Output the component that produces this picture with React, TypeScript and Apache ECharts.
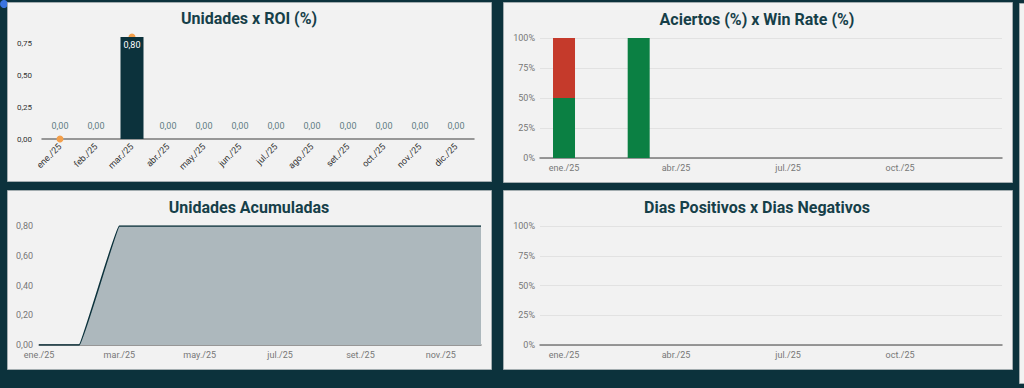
import React, { useEffect, useRef } from "react";
import * as echarts from "echarts";

const months = ["ene./25", "feb./25", "mar./25", "abr./25", "may./25", "jun./25", "jul./25", "ago./25", "set./25", "oct./25", "nov./25", "dic./25"];
const unidades = [0, 0, 0.8, 0, 0, 0, 0, 0, 0, 0, 0, 0];
const roi: (number | null)[] = [0, null, 0.8, null, null, null, null, null, null, null, null, null];
const acumuladas = [0, 0, 0.8, 0.8, 0.8, 0.8, 0.8, 0.8, 0.8, 0.8, 0.8, 0.8];
const winMonthIdx = [0, 2];
const aciertos = [50, 100];
const fallos = [50, 0];
const diasMonthIdx: number[] = [];
const diasPositivos: number[] = [];
const diasNegativos: number[] = [];
const quarterTicks = [0, 3, 6, 9];

const titles = ["Unidades x ROI (%)", "Aciertos (%) x Win Rate (%)", "Unidades Acumuladas", "Dias Positivos x Dias Negativos"];

const FONT = "Roboto";
const TITLE_COLOR = "#163f49";
const DARK = "#0c323c";
const fmt2 = (v: number) => v.toFixed(2).replace(".", ",");

export default function App() {
  const ref = useRef<HTMLDivElement>(null);
  useEffect(() => {
    if (!ref.current) return;
    const chart = echarts.init(ref.current, null, { renderer: "svg" });

    const panel = (x: number, y: number, w: number, h: number) => ({
      type: "rect",
      z: -10,
      shape: { x, y, width: w, height: h },
      style: { fill: "#f2f2f2", stroke: "#a3adb0", lineWidth: 1 },
    });

    const titleOpt = (text: string, cx: number, top: number) => ({
      text,
      left: cx,
      top,
      textAlign: "center",
      padding: 0,
      textStyle: { fontFamily: FONT, fontSize: 16, fontWeight: "bold", color: TITLE_COLOR },
    });

    const unidadesData = unidades.map((v) =>
      v > 0
        ? { value: v, label: { position: "insideTop", distance: 3, color: "#ffffff" } }
        : { value: v }
    );

    const timeXAxis = (gridIndex: number) => ({
      type: "value",
      gridIndex,
      min: -0.643,
      max: 11.73,
      splitLine: { show: false },
      axisTick: { show: false },
      axisLine: { show: true, onZero: false, lineStyle: { color: "#7a7a7a", width: 1.5 } },
      axisLabel: {
        customValues: quarterTicks,
        formatter: (v: number) => months[Math.round(v)] ?? "",
        color: "#777",
        fontFamily: FONT,
        fontSize: 9,
        margin: 5,
      },
    });

    const pctYAxis = (gridIndex: number) => ({
      type: "value",
      gridIndex,
      min: 0,
      max: 100,
      interval: 25,
      axisLine: { show: false },
      axisTick: { show: false },
      splitLine: { lineStyle: { color: "#e2e2e2", width: 1 } },
      axisLabel: { formatter: "{value}%", color: "#777", fontFamily: FONT, fontSize: 9, margin: 5 },
    });

    // data as [percent, monthIndex] so the first numeric dimension (the one stacked) is the percent
    const stackedBar = (name: string, axis: number, stack: string, idx: number[], vals: number[], color: string) => ({
      name,
      type: "bar",
      xAxisIndex: axis,
      yAxisIndex: axis,
      stack,
      barWidth: 22,
      dimensions: ["pct", "mes"],
      encode: { x: "mes", y: "pct" },
      data: idx.map((m, i) => [vals[i], m]),
      itemStyle: { color },
    });

    chart.setOption({
      animation: false,
      backgroundColor: DARK,
      graphic: [
        { type: "circle", z: -20, shape: { cx: 4, cy: 4, r: 4 }, style: { fill: "#3a74e0" } },
        panel(7.5, 2.5, 484, 179),
        panel(503.5, 2.5, 509, 180),
        panel(7.5, 190.5, 484, 179),
        panel(503.5, 190.5, 509, 179),
        panel(1019.5, 3.5, 10, 380),
      ],
      title: [
        titleOpt(titles[0], 249, 10),
        titleOpt(titles[1], 757, 11),
        titleOpt(titles[2], 249, 199),
        titleOpt(titles[3], 757, 199),
      ],
      grid: [
        { left: 42, right: 1024 - 474, top: 37, bottom: 388 - 139 },
        { left: 540, right: 1024 - 1002, top: 38, bottom: 388 - 158 },
        { left: 39, right: 1024 - 481, top: 226, bottom: 388 - 345 },
        { left: 540, right: 1024 - 1002, top: 226, bottom: 388 - 345 },
      ],
      xAxis: [
        {
          type: "category",
          gridIndex: 0,
          data: months,
          axisTick: { show: false },
          axisLine: { lineStyle: { color: "#7a7a7a", width: 1.5 } },
          axisLabel: { rotate: 45, interval: 0, color: "#333", fontFamily: FONT, fontSize: 9, margin: 6 },
        },
        timeXAxis(1),
        {
          type: "category",
          gridIndex: 2,
          data: months,
          boundaryGap: false,
          axisTick: { show: false },
          axisLine: { lineStyle: { color: "#7a7a7a", width: 1.5 } },
          axisLabel: { interval: 1, color: "#777", fontFamily: FONT, fontSize: 9, margin: 5 },
        },
        timeXAxis(3),
      ],
      yAxis: [
        {
          type: "value",
          gridIndex: 0,
          min: 0,
          max: 0.8,
          interval: 0.25,
          splitLine: { show: false },
          axisLine: { show: false },
          axisTick: { show: false },
          axisLabel: {
            showMaxLabel: false,
            formatter: (v: number) => (Math.abs(v * 4 - Math.round(v * 4)) < 1e-6 ? fmt2(v) : ""),
            color: "#333",
            fontFamily: FONT,
            fontSize: 8,
            margin: 10,
          },
        },
        pctYAxis(1),
        {
          type: "value",
          gridIndex: 2,
          min: 0,
          max: 0.8,
          interval: 0.2,
          splitLine: { show: false },
          axisLine: { show: false },
          axisTick: { show: false },
          axisLabel: { formatter: (v: number) => fmt2(v), color: "#777", fontFamily: FONT, fontSize: 9, margin: 6 },
        },
        pctYAxis(3),
      ],
      series: [
        {
          name: "ROI",
          type: "line",
          xAxisIndex: 0,
          yAxisIndex: 0,
          z: 1,
          data: roi,
          symbol: "circle",
          symbolSize: 7,
          showSymbol: true,
          connectNulls: false,
          itemStyle: { color: "#f3a04c" },
          lineStyle: { opacity: 0 },
        },
        {
          name: "Unidades",
          type: "bar",
          xAxisIndex: 0,
          yAxisIndex: 0,
          z: 3,
          barWidth: 23,
          data: unidadesData,
          itemStyle: { color: DARK },
          label: {
            show: true,
            position: "top",
            distance: 9,
            color: "#5f7d84",
            fontFamily: FONT,
            fontSize: 9,
            formatter: (p: any) => fmt2(Array.isArray(p.value) ? p.value[1] : p.value),
          },
        },
        stackedBar("Aciertos", 1, "win", winMonthIdx, aciertos, "#0b8043"),
        stackedBar("Fallos", 1, "win", winMonthIdx, fallos, "#c53a2b"),
        {
          name: "Unidades Acumuladas",
          type: "line",
          xAxisIndex: 2,
          yAxisIndex: 2,
          data: acumuladas,
          smooth: 0.05,
          showSymbol: false,
          lineStyle: { color: DARK, width: 1.5 },
          areaStyle: { color: "#adb8bd", opacity: 1 },
        },
        stackedBar("Dias Positivos", 3, "dias", diasMonthIdx, diasPositivos, "#0b8043"),
        stackedBar("Dias Negativos", 3, "dias", diasMonthIdx, diasNegativos, "#c53a2b"),
      ],
    });
    return () => chart.dispose();
  }, []);

  return (
    <div
      ref={ref}
      style={{ position: "fixed", left: 0, top: 0, width: 1024, height: 388 }}
    />
  );
}
